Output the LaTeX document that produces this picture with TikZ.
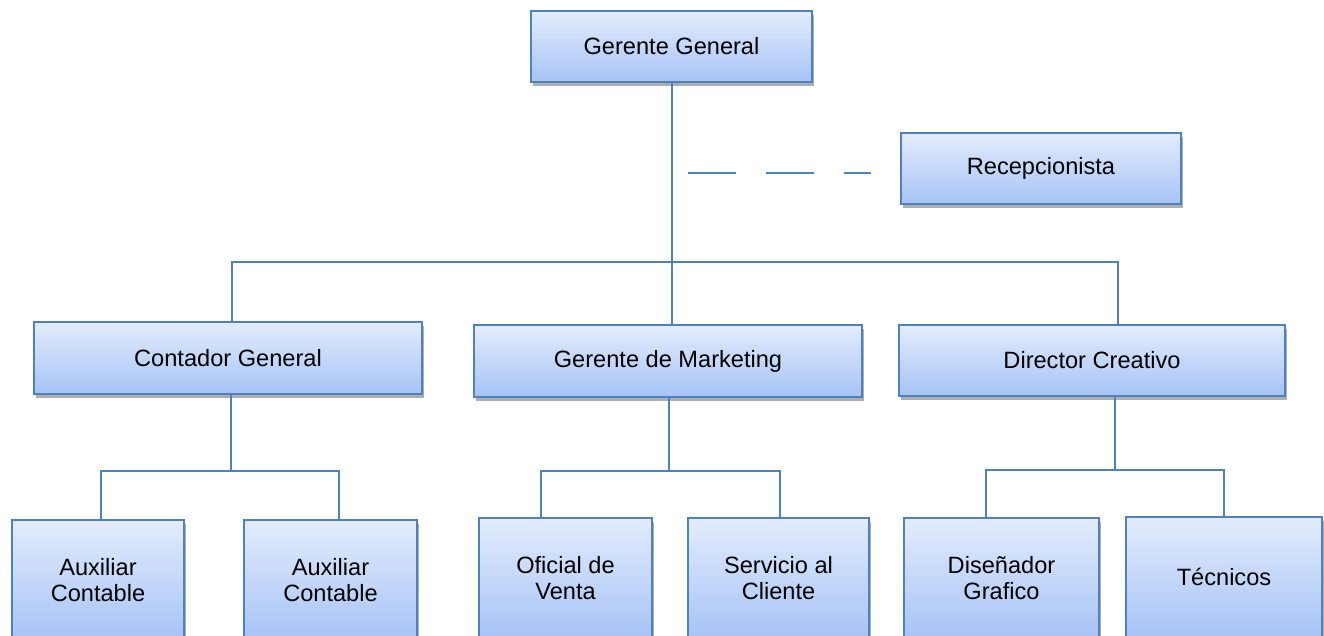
\documentclass[tikz,border=0pt]{standalone}
\usepackage{fontspec}
\setmainfont{Liberation Sans}
\usetikzlibrary{shadows}

\definecolor{boxline}{HTML}{4F81BD}
\definecolor{boxtop}{HTML}{E3ECFC}
\definecolor{boxbot}{HTML}{A6C3F6}

\begin{document}
\begin{tikzpicture}[x=0.5pt,y=-0.5pt,
    orgbox/.style={draw=boxline,line width=1pt,top color=boxtop,bottom color=boxbot,
      drop shadow={shadow xshift=1.2pt,shadow yshift=-2pt,opacity=0.45,fill=black!70},
      inner sep=0pt,outer sep=0pt,align=center,
      font=\fontsize{11.8}{13.4}\selectfont},
    link/.style={draw=boxline,line width=1pt}]
\useasboundingbox (0,0) rectangle (1324,636);

% top
\node[orgbox,minimum width=140.5pt,minimum height=35.5pt] (gg) at (671.5,46.5) {Gerente General};
\node[orgbox,minimum width=140pt,minimum height=35.5pt] (rc) at (1041,168.5) {Recepcionista};

% second row
\node[orgbox,minimum width=194pt,minimum height=36pt] (cg) at (228,358) {Contador General};
\node[orgbox,minimum width=194pt,minimum height=36pt] (gm) at (668,361) {Gerente de Marketing};
\node[orgbox,minimum width=193pt,minimum height=35.5pt] (dc) at (1092,360.5) {Director Creativo};

% third row (cut by the page edge)
\node[orgbox,minimum width=86pt,minimum height=60pt] (aux1) at (98,580) {Auxiliar\\Contable};
\node[orgbox,minimum width=86.5pt,minimum height=60pt] (aux2) at (330.5,580) {Auxiliar\\Contable};
\node[orgbox,minimum width=86.5pt,minimum height=60pt] (ov) at (565.5,578) {Oficial de\\Venta};
\node[orgbox,minimum width=90.5pt,minimum height=60pt] (sc) at (778.5,578) {Servicio al\\Cliente};
\node[orgbox,minimum width=97.5pt,minimum height=60pt] (dg) at (1001.5,578) {Diseñador\\Grafico};
\node[orgbox,minimum width=98pt,minimum height=60pt] (tc) at (1224,577) {Técnicos};

\coordinate (bar) at (669,262);
\coordinate (cgj) at (231,471);
\coordinate (gmj) at (669,471);
\coordinate (dcj) at (1115,470);
\coordinate (dashstart) at (688,173);

\draw[link] (gg.south) -- (gg.south |- gm.north);
\draw[link] ([xshift=2pt]cg.north) |- (bar) -| ([xshift=13pt]dc.north);

\draw[link] (cgj |- cg.south) -- (cgj);
\draw[link] ([xshift=1.5pt]aux1.north) |- (cgj) -| ([xshift=4.25pt]aux2.north);
\draw[link] (gmj |- gm.south) -- (gmj);
\draw[link] ([xshift=-12.25pt]ov.north) |- (gmj) -| ([xshift=0.75pt]sc.north);
\draw[link] (dcj |- dc.south) -- (dcj);
\draw[link] ([xshift=-7.75pt]dg.north) |- (dcj) -| (tc.north);

% staff line
\draw[link,dash pattern=on 24pt off 15pt,shorten >=15pt] (dashstart) -- (dashstart -| rc.west);
\end{tikzpicture}
\end{document}
